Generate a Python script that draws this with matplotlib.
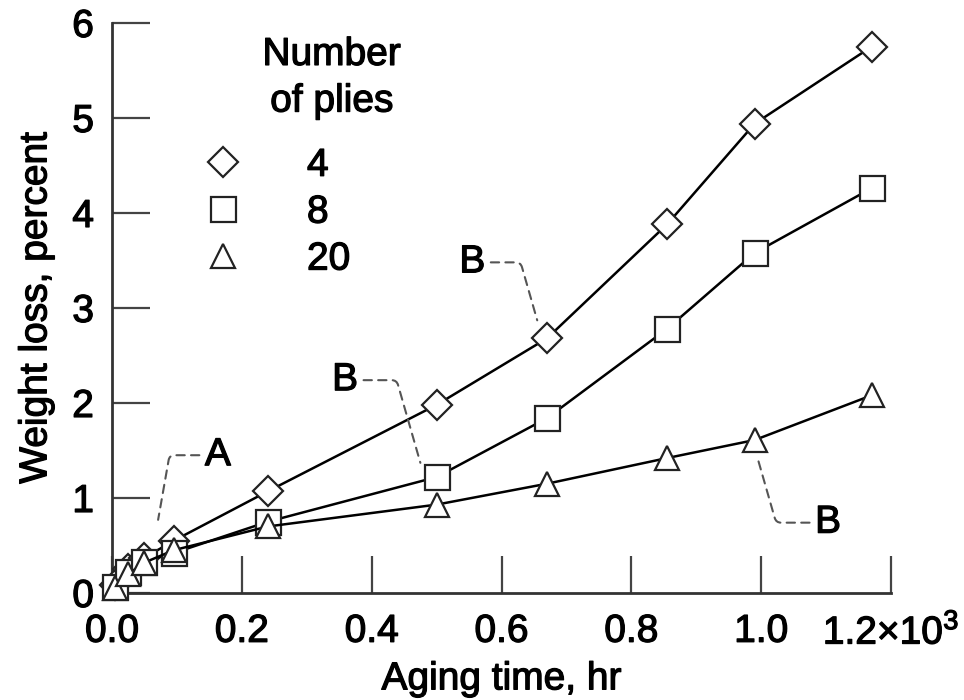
import matplotlib
matplotlib.use('Agg')
import matplotlib.pyplot as plt
import matplotlib.patheffects as pe
from matplotlib.lines import Line2D

plt.rcParams['font.family'] = ['Liberation Sans', 'DejaVu Sans']
plt.rcParams['mathtext.fontset'] = 'custom'
plt.rcParams['mathtext.rm'] = 'Liberation Sans'
plt.rcParams['mathtext.it'] = 'Liberation Sans:italic'
plt.rcParams['mathtext.bf'] = 'Liberation Sans:bold'

# ---- data (aging time in units of 10^3 hr, weight loss in percent) ----
aging_time = [0.005, 0.025, 0.05, 0.095, 0.24, 0.50, 0.67, 0.855, 0.99, 1.17]
loss_4_plies = [0.08, 0.25, 0.37, 0.55, 1.07, 1.98, 2.68, 3.88, 4.94, 5.75]
loss_8_plies = [0.06, 0.22, 0.33, 0.42, 0.75, 1.22, 1.84, 2.78, 3.58, 4.26]
loss_20_plies = [0.05, 0.20, 0.32, 0.45, 0.70, 0.93, 1.15, 1.42, 1.61, 2.08]
ply_labels = ['4', '8', '20']

x_ticks = [0.0, 0.2, 0.4, 0.6, 0.8, 1.0, 1.2]
x_tick_labels = ['0.0', '0.2', '0.4', '0.6', '0.8', '1.0', '1.2\u00d710$^\\mathregular{3}$']
y_ticks = [0, 1, 2, 3, 4, 5, 6]
y_tick_labels = ['0', '1', '2', '3', '4', '5', '6']

FS = 28
heavy = [pe.withStroke(linewidth=0.9, foreground='black')]

fig = plt.figure(figsize=(9.64, 7.0), dpi=100)
ax = fig.add_axes([0.1162, 0.1529, 0.8081, 0.8143])

series = [
    (loss_4_plies, 'D', 15),
    (loss_8_plies, 's', 18),
    (loss_20_plies, '^', 17),
]
for ys, mk, ms in series:
    ax.plot(aging_time, ys, color='black', lw=1.8, marker=mk, ms=ms,
            mfc='white', mec='#222222', mew=1.6, clip_on=False, zorder=3)

ax.set_xlim(0, 1.2)
ax.set_ylim(0, 6)
ax.set_xticks(x_ticks)
ax.set_xticklabels(x_tick_labels)
ax.set_yticks(y_ticks)
ax.set_yticklabels(y_tick_labels)

for s in ['top', 'right']:
    ax.spines[s].set_visible(False)
for s in ['left', 'bottom']:
    ax.spines[s].set_linewidth(2)
    ax.spines[s].set_color('#333333')

ax.tick_params(axis='both', direction='in', length=27, width=1.6,
               labelsize=FS, color='#444444')
ax.tick_params(axis='x', pad=15)
ax.tick_params(axis='y', pad=13)

ax.set_xlabel('Aging time, hr', fontsize=FS)
ax.set_ylabel('Weight loss, percent', fontsize=FS)
ax.xaxis.set_label_coords(0.5, -0.12)
ax.yaxis.set_label_coords(-0.074, 0.5)

# legend
handles = [Line2D([], [], ls='none', marker=mk, ms=ms, mfc='white',
                  mec='#222222', mew=1.6) for _, mk, ms in series]
leg = ax.legend(handles, ply_labels, loc='upper left', bbox_to_anchor=(0.118, 0.781),
                frameon=False, handlelength=1.0, handletextpad=1.65, labelspacing=0.28,
                borderpad=0, borderaxespad=0, fontsize=FS)
title = ax.text(0.282, 0.903, 'Number\nof plies', transform=ax.transAxes,
                ha='center', va='center', fontsize=FS, linespacing=1.38)

# annotations with dashed leaders
lead = dict(arrowstyle='-', color='#555555', lw=1.5, linestyle=(0, (4, 3)),
            shrinkA=2, shrinkB=0)
notes = []
notes.append(ax.annotate('A', xy=(0.071, 0.77), xytext=(0.163, 1.45), fontsize=FS,
             ha='center', va='center',
             arrowprops=dict(**lead, relpos=(0, 0.5),
                             connectionstyle='angle,angleA=0,angleB=80,rad=5')))
notes.append(ax.annotate('B', xy=(0.655, 2.87), xytext=(0.555, 3.48), fontsize=FS,
             ha='center', va='center',
             arrowprops=dict(**lead, relpos=(1, 0.5),
                             connectionstyle='angle,angleA=0,angleB=106,rad=5')))
notes.append(ax.annotate('B', xy=(0.475, 1.37), xytext=(0.359, 2.24), fontsize=FS,
             ha='center', va='center',
             arrowprops=dict(**lead, relpos=(1, 0.5),
                             connectionstyle='angle,angleA=0,angleB=106,rad=5')))
notes.append(ax.annotate('B', xy=(0.994, 1.43), xytext=(1.103, 0.74), fontsize=FS,
             ha='center', va='center',
             arrowprops=dict(**lead, relpos=(0, 0.5),
                             connectionstyle='angle,angleA=180,angleB=-74,rad=5')))

texts = (ax.get_xticklabels() + ax.get_yticklabels() + leg.get_texts() + notes
         + [ax.xaxis.label, ax.yaxis.label, title])
for t in texts:
    t.set_path_effects(heavy)

fig.savefig('out.png', dpi=100)
